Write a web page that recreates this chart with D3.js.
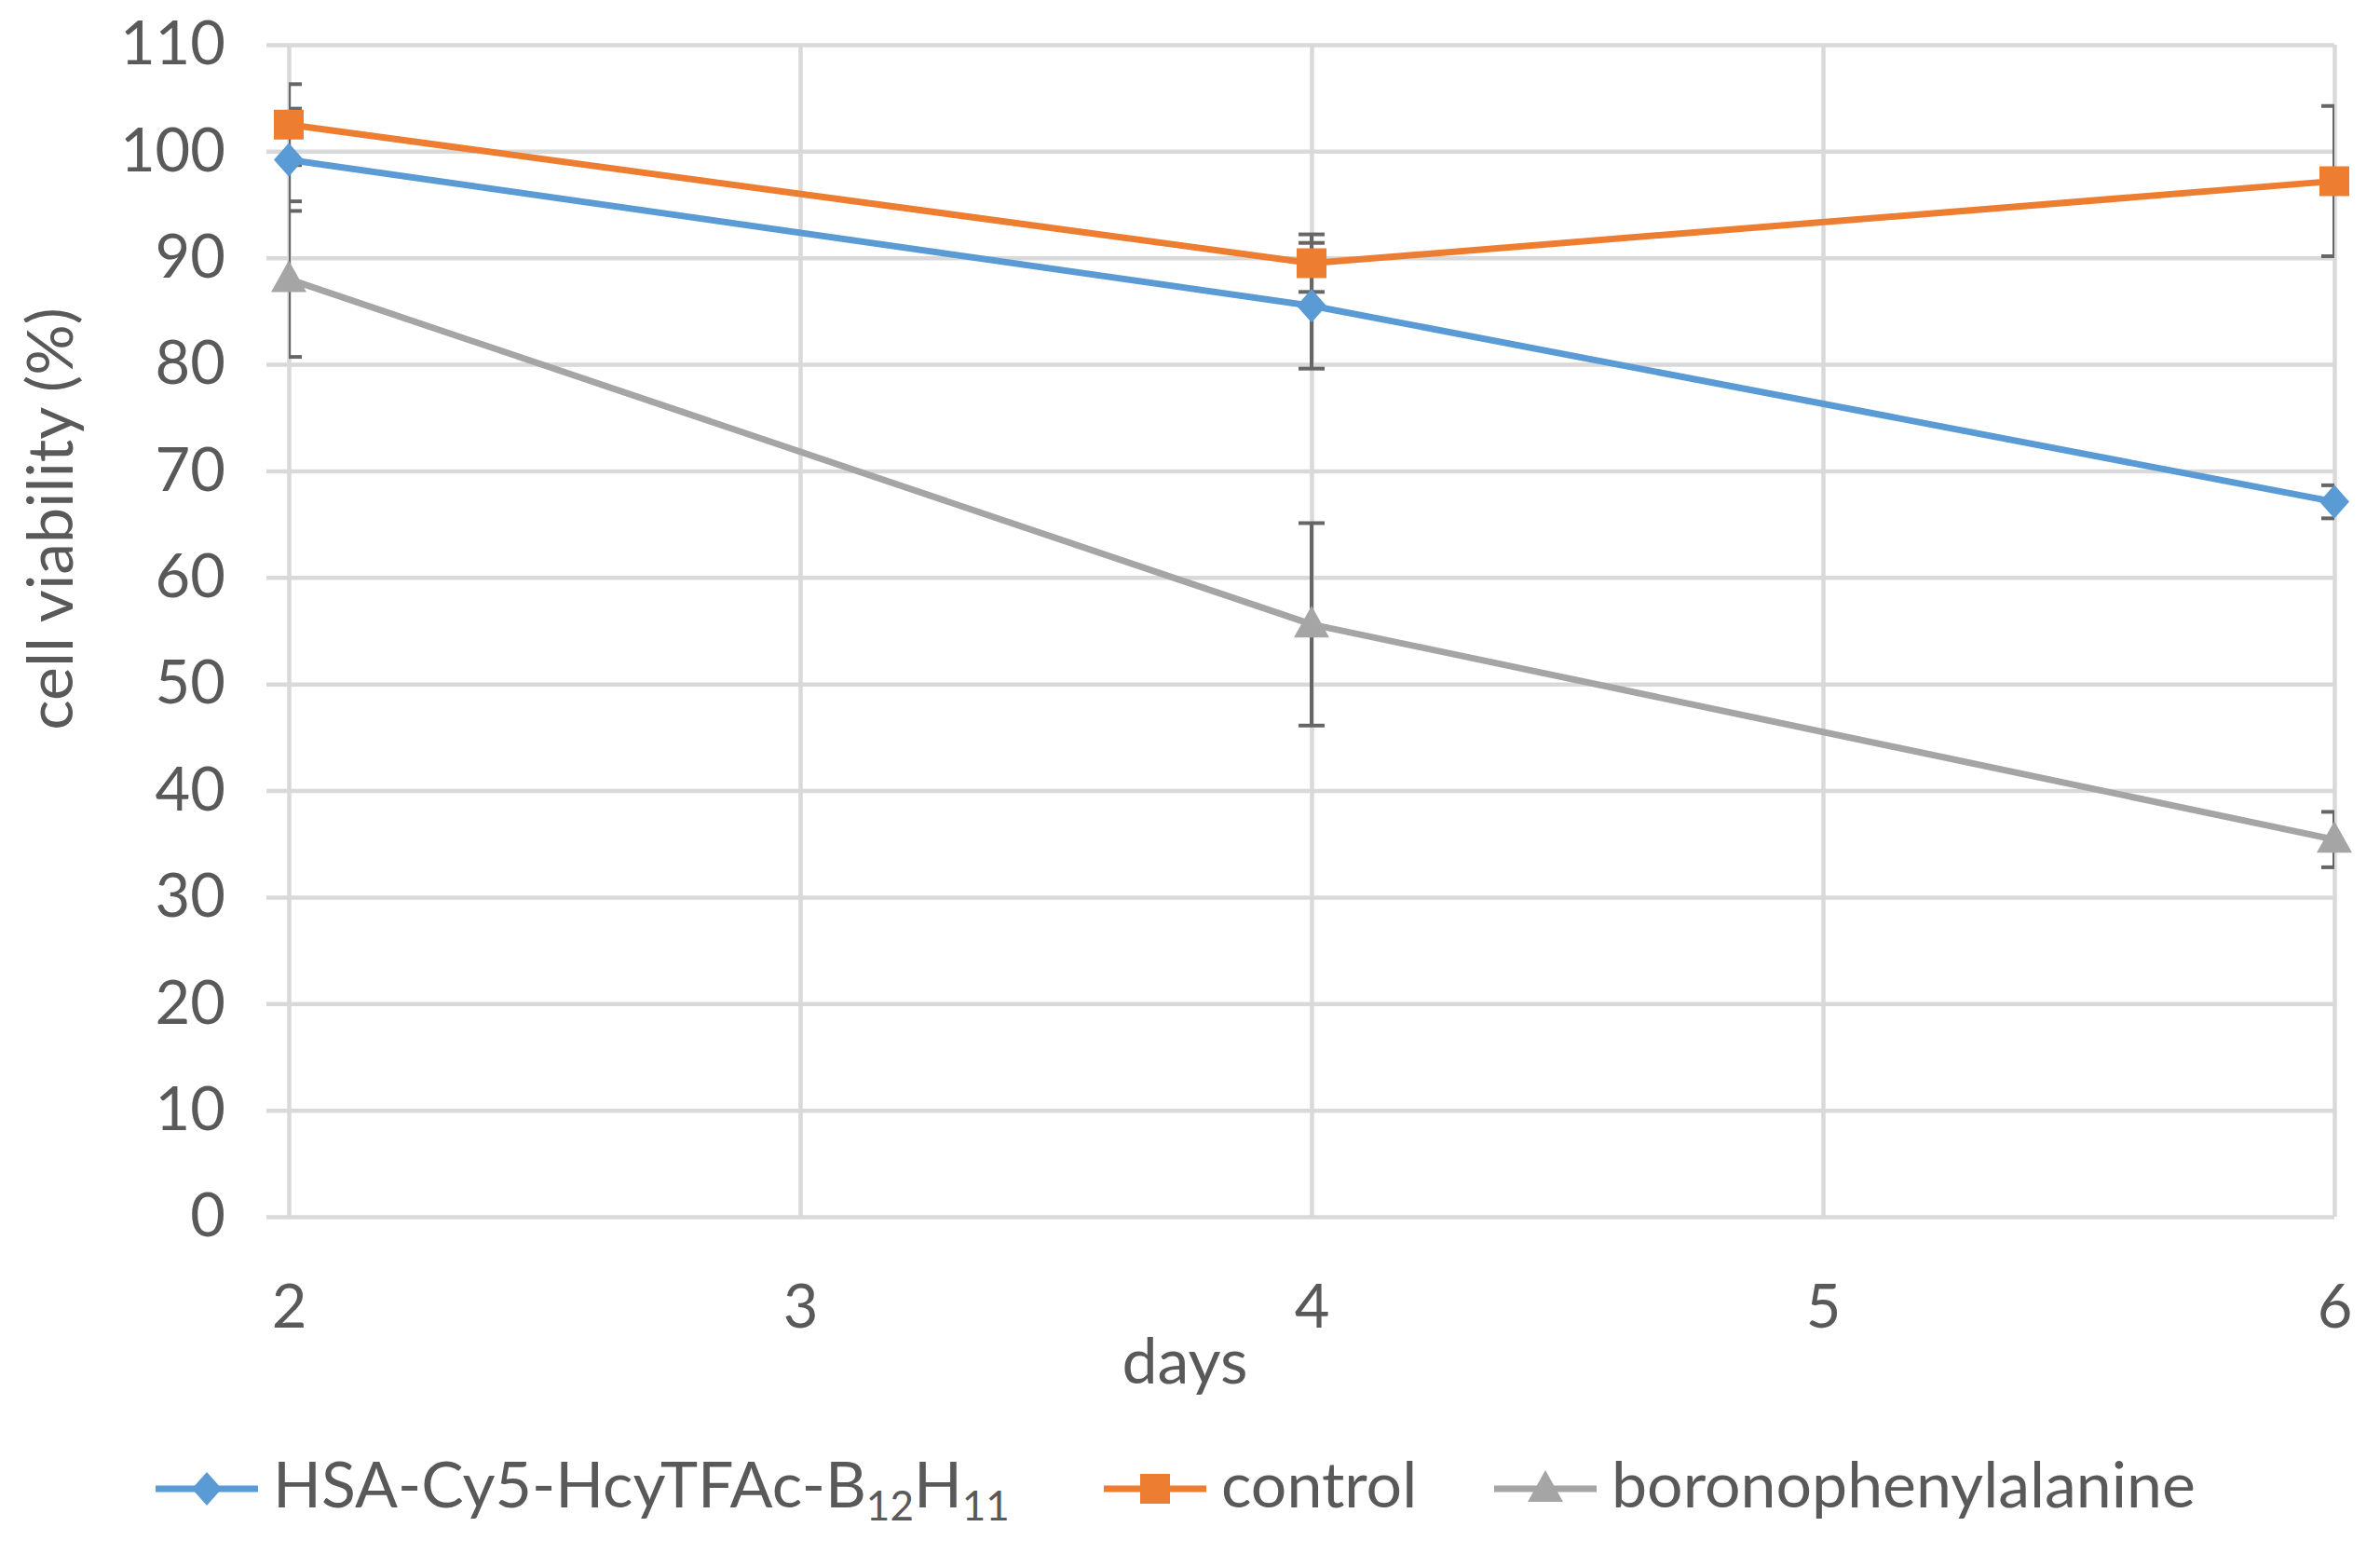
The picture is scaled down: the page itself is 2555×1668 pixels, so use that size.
<!DOCTYPE html>
<html>
<head>
<meta charset="utf-8">
<script src="https://cdn.jsdelivr.net/npm/d3@7"></script>
<style>
  body { margin: 0; background: #fff; }
  text { font-family: Lato, "Open Sans", sans-serif; fill: #595959; }
</style>
</head>
<body>
<div id="chart"></div>
<script>
// values
var days = [2, 4, 6];
var xTicks = [2, 3, 4, 5, 6];
var yTicks = [0, 10, 20, 30, 40, 50, 60, 70, 80, 90, 100, 110];

var hsaValues = [99.2, 85.5, 67.1];
var hsaErrors = [4.8, 5.9, 1.55];
var controlValues = [102.5, 89.5, 97.2];
var controlErrors = [3.8, 2.7, 7.05];
var bpaValues = [88.0, 55.6, 35.4];
var bpaErrors = [7.3, 9.5, 2.6];

var seriesNames = ["HSA-Cy5-HcyTFAc-B12H11", "control", "boronophenylalanine"];

var W = 2555, H = 1668;
var plotLeft = 310, plotRight = 2506, plotTop = 48, plotBottom = 1306;

var svg = d3.select("#chart").append("svg")
  .attr("width", W).attr("height", H);

var x = d3.scaleLinear().domain([2, 6]).range([plotLeft, plotRight]);
var y = d3.scaleLinear().domain([0, 110]).range([plotBottom, plotTop]);

// horizontal grid + y labels
var yAxis = svg.append("g")
  .attr("transform", "translate(" + (plotLeft - 24) + ",0)")
  .call(d3.axisLeft(y).tickValues(yTicks).tickSize(-(plotRight - plotLeft + 24)).tickPadding(44));
yAxis.select(".domain").remove();
yAxis.selectAll("line").attr("stroke", "#d9d9d9").attr("stroke-width", 4.5);
yAxis.selectAll("text").attr("font-size", 65).style("font-family", "Lato").attr("fill", "#595959");

// vertical grid + x labels
var xAxis = svg.append("g")
  .attr("transform", "translate(0," + plotBottom + ")")
  .call(d3.axisBottom(x).tickValues(xTicks).tickFormat(d3.format("d"))
    .tickSize(-(plotBottom - plotTop)).tickPadding(73));
xAxis.select(".domain").remove();
xAxis.selectAll("line").attr("stroke", "#d9d9d9").attr("stroke-width", 4.5);
xAxis.selectAll("text").attr("font-size", 65).style("font-family", "Lato").attr("fill", "#595959");

// axis titles
svg.append("text").attr("x", 1272).attr("y", 1485)
  .attr("text-anchor", "middle").attr("font-size", 68).text("days");
svg.append("text")
  .attr("transform", "translate(78,557) rotate(-90)")
  .attr("text-anchor", "middle").attr("font-size", 68).text("cell viability (%)");

var series = [
  { name: seriesNames[0], values: hsaValues, errors: hsaErrors, color: "#5b9bd5", marker: "diamond" },
  { name: seriesNames[1], values: controlValues, errors: controlErrors, color: "#ed7d31", marker: "square" },
  { name: seriesNames[2], values: bpaValues, errors: bpaErrors, color: "#a5a5a5", marker: "triangle" }
];

function markerPath(type) {
  if (type === "diamond") return "M0,-18L16,0L0,18L-16,0Z";
  if (type === "square") return "M-16,-16H16V16H-16Z";
  return "M0,-20L19,14H-19Z";
}

svg.append("clipPath").attr("id", "plotclip")
  .append("rect").attr("x", plotLeft).attr("y", 0).attr("width", plotRight - plotLeft).attr("height", H);

// error bars
var errG = svg.append("g").attr("clip-path", "url(#plotclip)");
series.forEach(function(s) {
  days.forEach(function(d, i) {
    var hi = y(s.values[i] + s.errors[i]), lo = y(s.values[i] - s.errors[i]), cx = x(d);
    errG.append("line").attr("x1", cx).attr("x2", cx).attr("y1", hi).attr("y2", lo)
      .attr("stroke", "#666").attr("stroke-width", 4);
    [hi, lo].forEach(function(yy) {
      errG.append("line").attr("x1", cx - 14).attr("x2", cx + 14).attr("y1", yy).attr("y2", yy)
        .attr("stroke", "#666").attr("stroke-width", 4);
    });
  });
});

var line = d3.line().x(function(d) { return x(d[0]); }).y(function(d) { return y(d[1]); });

series.forEach(function(s) {
  var pts = days.map(function(d, i) { return [d, s.values[i]]; });
  svg.append("path").attr("d", line(pts)).attr("fill", "none")
    .attr("stroke", s.color).attr("stroke-width", 7).attr("stroke-linejoin", "round");
  svg.selectAll(null).data(pts).enter().append("path")
    .attr("d", markerPath(s.marker))
    .attr("transform", function(p) { return "translate(" + x(p[0]) + "," + y(p[1]) + ")"; })
    .attr("fill", s.color);
});

// legend
var legendX = [167, 1185, 1604];
var legendY = 1598;
series.forEach(function(s, i) {
  var g = svg.append("g").attr("transform", "translate(" + legendX[i] + "," + legendY + ")");
  g.append("line").attr("x1", 0).attr("x2", 110).attr("stroke", s.color).attr("stroke-width", 7);
  g.append("path").attr("d", markerPath(s.marker)).attr("transform", "translate(55,0)").attr("fill", s.color);
  var t = g.append("text").attr("x", 126).attr("y", 20).attr("font-size", 68);
  if (i === 0) {
    t.append("tspan").text("HSA-Cy5-HcyTFAc-B");
    t.append("tspan").attr("font-size", 44).attr("dy", 14).text("12");
    t.append("tspan").attr("dy", -14).text("H");
    t.append("tspan").attr("font-size", 44).attr("dy", 14).text("11");
  } else {
    t.text(s.name);
  }
});
</script>
</body>
</html>
